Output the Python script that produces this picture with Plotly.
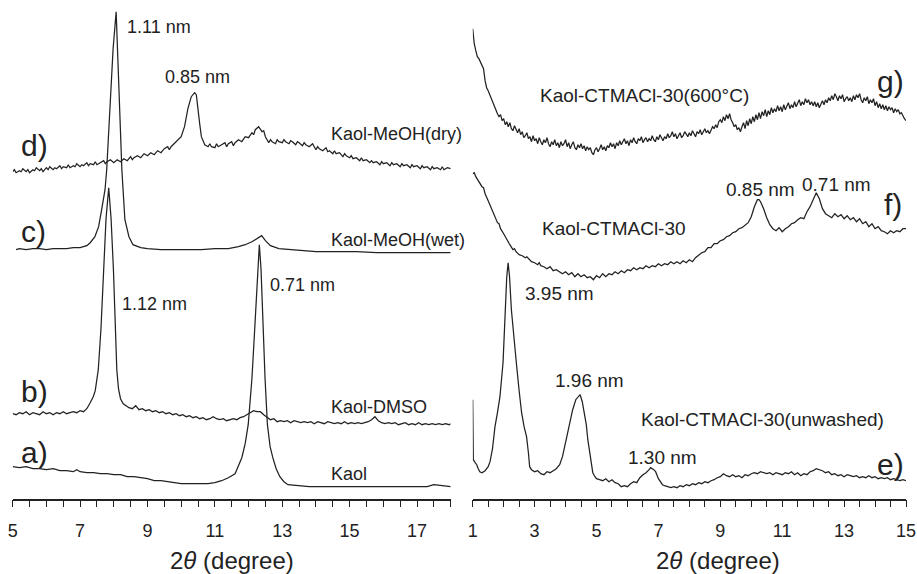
import plotly.graph_objects as go

# ---------------- data: (2theta, intensity a.u.) readings ----------------
kaol = [(5.0, 32), (5.2, 31), (5.4, 32), (5.6, 30), (5.8, 30), (6.0, 29), (6.2, 30), (6.4, 28), (6.6, 28),
        (6.8, 27), (6.9, 29), (7.0, 27), (7.2, 26), (7.4, 26), (7.6, 25), (7.8, 25), (8.0, 24), (8.2, 24),
        (8.4, 22), (8.6, 22), (8.8, 21), (9.0, 20), (9.2, 18), (9.4, 18), (9.6, 17), (9.8, 16), (10.0, 15),
        (10.2, 15), (10.4, 15), (10.6, 15), (10.8, 15), (11.0, 16), (11.2, 18), (11.4, 21), (11.6, 25),
        (11.8, 41), (11.9, 55), (11.99, 74), (12.1, 120), (12.19, 174), (12.26, 225), (12.32, 254),
        (12.37, 230), (12.42, 174), (12.49, 120), (12.56, 74), (12.64, 52), (12.72, 41), (12.82, 30),
        (12.93, 22), (13.05, 17), (13.17, 14), (13.4, 13), (13.8, 12), (14.2, 12), (14.6, 12), (15.0, 12),
        (15.4, 12), (15.8, 12), (16.2, 12), (16.6, 12), (17.0, 12), (17.3, 12), (17.5, 14), (17.7, 13),
        (18.0, 12)]

kaol_dmso = [(5.0, 85), (5.1, 84), (5.2, 86), (5.3, 85), (5.4, 87), (5.5, 84), (5.6, 86), (5.7, 85), (5.8, 84),
             (5.9, 87), (6.0, 85), (6.1, 86), (6.2, 84), (6.3, 86), (6.4, 85), (6.5, 87), (6.6, 85), (6.7, 86),
             (6.8, 87), (6.9, 86), (7.0, 88), (7.1, 87), (7.2, 90), (7.3, 96), (7.39, 102), (7.45, 108),
             (7.54, 129), (7.62, 170), (7.69, 229), (7.77, 280), (7.85, 311), (7.92, 280), (7.99, 229),
             (8.04, 170), (8.09, 129), (8.14, 110), (8.2, 100), (8.28, 95), (8.35, 93), (8.45, 91), (8.55, 90),
             (8.65, 93), (8.75, 89), (8.85, 90), (8.95, 88), (9.05, 89), (9.15, 87), (9.25, 88), (9.35, 86),
             (9.45, 87), (9.55, 85), (9.65, 86), (9.75, 84), (9.85, 85), (9.95, 83), (10.05, 84), (10.15, 82),
             (10.25, 83), (10.35, 81), (10.45, 82), (10.55, 80), (10.65, 81), (10.75, 79), (10.85, 80),
             (10.95, 82), (11.05, 80), (11.15, 79), (11.25, 80), (11.35, 78), (11.45, 79), (11.55, 80),
             (11.65, 79), (11.75, 81), (11.85, 82), (11.95, 84), (12.05, 86), (12.15, 88), (12.25, 87),
             (12.35, 87), (12.45, 84), (12.55, 81), (12.65, 79), (12.75, 80), (12.85, 77), (12.95, 78),
             (13.05, 77), (13.15, 78), (13.25, 76), (13.35, 78), (13.45, 77), (13.55, 76), (13.65, 77),
             (13.75, 76), (13.85, 77), (13.95, 75), (14.05, 77), (14.15, 76), (14.25, 75), (14.35, 77),
             (14.45, 76), (14.55, 75), (14.65, 76), (14.75, 75), (14.85, 77), (14.95, 75), (15.05, 76),
             (15.15, 75), (15.25, 76), (15.35, 75), (15.45, 76), (15.55, 77), (15.65, 79), (15.75, 82),
             (15.85, 78), (15.95, 76), (16.05, 75), (16.15, 76), (16.25, 75), (16.35, 76), (16.45, 74),
             (16.55, 75), (16.65, 76), (16.75, 74), (16.85, 75), (16.95, 74), (17.05, 76), (17.15, 74),
             (17.25, 75), (17.35, 74), (17.45, 75), (17.55, 74), (17.65, 75), (17.75, 74), (17.85, 75),
             (17.95, 74), (18.0, 75)]

kaol_meoh_wet = [(5.1, 249), (5.2, 250), (5.4, 249), (5.6, 250), (5.8, 250), (6.0, 249), (6.2, 250), (6.4, 250),
                 (6.6, 250), (6.8, 251), (7.0, 251), (7.2, 253), (7.3, 256), (7.44, 262), (7.55, 272),
                 (7.64, 289), (7.74, 309), (7.79, 329), (7.89, 390), (7.98, 450), (8.07, 487), (8.15, 420),
                 (8.24, 329), (8.33, 279), (8.45, 262), (8.57, 254), (8.8, 251), (9.0, 250), (9.4, 249),
                 (9.8, 249), (10.2, 249), (10.6, 249), (11.0, 250), (11.4, 250), (11.7, 252), (11.9, 254),
                 (12.1, 257), (12.25, 260), (12.39, 263), (12.5, 258), (12.65, 253), (12.9, 250), (13.2, 249),
                 (13.6, 248), (14.0, 247), (14.6, 247), (15.2, 247), (15.8, 246), (16.4, 246), (17.0, 246),
                 (17.6, 246), (18.0, 246)]

kaol_meoh_dry = [(5.0, 327), (5.05, 329), (5.1, 326), (5.2, 328), (5.25, 327), (5.3, 330), (5.4, 327), (5.45, 329),
                 (5.5, 326), (5.6, 329), (5.65, 328), (5.7, 331), (5.8, 328), (5.85, 330), (5.9, 327), (6.0, 331),
                 (6.05, 329), (6.1, 332), (6.2, 329), (6.25, 331), (6.3, 330), (6.4, 333), (6.45, 330),
                 (6.5, 332), (6.6, 331), (6.65, 334), (6.7, 331), (6.8, 333), (6.85, 332), (6.9, 335),
                 (7.0, 332), (7.05, 334), (7.1, 333), (7.2, 336), (7.25, 333), (7.3, 335), (7.4, 334),
                 (7.45, 337), (7.5, 334), (7.6, 336), (7.7, 338), (7.75, 335), (7.8, 337), (7.9, 339),
                 (8.0, 336), (8.1, 339), (8.2, 337), (8.3, 340), (8.4, 338), (8.5, 342), (8.55, 339),
                 (8.6, 341), (8.7, 343), (8.8, 341), (8.9, 345), (9.0, 343), (9.1, 346), (9.2, 344), (9.3, 348),
                 (9.4, 346), (9.5, 350), (9.6, 352), (9.65, 349), (9.7, 352), (9.8, 355), (9.9, 358),
                 (10.0, 362), (10.1, 372), (10.2, 390), (10.3, 402), (10.4, 406), (10.45, 404), (10.5, 392),
                 (10.55, 375), (10.6, 362), (10.7, 354), (10.8, 352), (10.85, 355), (10.9, 352), (11.0, 351),
                 (11.05, 355), (11.1, 352), (11.2, 354), (11.3, 356), (11.35, 352), (11.4, 355), (11.5, 357),
                 (11.55, 353), (11.6, 356), (11.7, 359), (11.8, 357), (11.9, 362), (12.0, 361), (12.1, 366),
                 (12.15, 364), (12.2, 369), (12.3, 372), (12.35, 370), (12.4, 367), (12.45, 368), (12.5, 362),
                 (12.6, 356), (12.65, 359), (12.7, 357), (12.8, 355), (12.85, 359), (12.9, 357), (13.0, 356),
                 (13.05, 359), (13.1, 357), (13.2, 355), (13.25, 358), (13.3, 357), (13.4, 354), (13.45, 357),
                 (13.5, 356), (13.6, 353), (13.65, 356), (13.7, 354), (13.8, 352), (13.9, 355), (14.0, 349),
                 (14.05, 352), (14.1, 350), (14.2, 348), (14.3, 351), (14.35, 347), (14.4, 348), (14.5, 345),
                 (14.55, 348), (14.6, 345), (14.7, 346), (14.8, 342), (14.85, 345), (14.9, 343), (15.0, 341),
                 (15.05, 343), (15.1, 340), (15.2, 341), (15.3, 338), (15.35, 341), (15.4, 338), (15.5, 339),
                 (15.6, 336), (15.65, 338), (15.7, 336), (15.8, 337), (15.9, 334), (15.95, 337), (16.0, 335),
                 (16.1, 336), (16.2, 333), (16.25, 336), (16.3, 334), (16.4, 335), (16.5, 332), (16.55, 335),
                 (16.6, 333), (16.7, 334), (16.8, 331), (16.85, 334), (16.9, 332), (17.0, 333), (17.1, 330),
                 (17.15, 333), (17.2, 331), (17.3, 332), (17.4, 329), (17.45, 332), (17.5, 330), (17.6, 331),
                 (17.7, 329), (17.75, 332), (17.8, 329), (17.9, 331), (18.0, 330)]

ctmacl_unwashed = [(1.0, 99), (1.01, 60), (1.02, 39), (1.08, 36), (1.13, 34), (1.18, 30), (1.23, 27), (1.3, 26),
                   (1.4, 28), (1.5, 32), (1.56, 37), (1.64, 50), (1.72, 72), (1.8, 86), (1.88, 102), (1.98, 136),
                   (2.04, 189), (2.1, 222), (2.145, 236), (2.19, 222), (2.25, 189), (2.33, 160), (2.41, 136),
                   (2.5, 108), (2.58, 86), (2.66, 72), (2.74, 62), (2.8, 46), (2.84, 32), (2.9, 29), (3.0, 27),
                   (3.1, 28), (3.2, 25), (3.3, 24), (3.4, 27), (3.5, 26), (3.6, 28), (3.7, 30), (3.81, 34),
                   (3.9, 42), (4.02, 59), (4.12, 75), (4.23, 89), (4.33, 99), (4.39, 101), (4.47, 104),
                   (4.54, 97), (4.61, 86), (4.67, 74), (4.72, 59), (4.8, 40), (4.88, 26), (4.95, 22), (5.0, 20),
                   (5.1, 19), (5.2, 18), (5.3, 20), (5.4, 17), (5.5, 19), (5.6, 16), (5.7, 15), (5.8, 12),
                   (5.9, 13), (6.0, 12), (6.1, 15), (6.2, 17), (6.3, 16), (6.4, 21), (6.5, 24), (6.6, 26),
                   (6.7, 29), (6.75, 31), (6.85, 29), (6.91, 27), (7.0, 20), (7.13, 14), (7.2, 13), (7.3, 12),
                   (7.4, 11), (7.5, 12), (7.6, 11), (7.7, 13), (7.8, 12), (7.9, 14), (8.0, 13), (8.1, 15),
                   (8.2, 14), (8.3, 16), (8.4, 15), (8.5, 17), (8.6, 16), (8.7, 18), (8.8, 19), (8.9, 21),
                   (9.0, 22), (9.1, 25), (9.2, 23), (9.3, 22), (9.4, 24), (9.5, 22), (9.6, 23), (9.7, 21),
                   (9.8, 24), (9.9, 23), (10.0, 25), (10.1, 26), (10.2, 25), (10.3, 27), (10.4, 26), (10.5, 25),
                   (10.6, 26), (10.7, 24), (10.8, 26), (10.9, 25), (11.0, 24), (11.1, 26), (11.2, 25),
                   (11.3, 27), (11.4, 24), (11.5, 26), (11.6, 23), (11.7, 25), (11.8, 24), (11.9, 27),
                   (12.0, 28), (12.1, 30), (12.2, 29), (12.3, 28), (12.4, 26), (12.5, 27), (12.6, 24),
                   (12.7, 25), (12.8, 23), (12.9, 24), (13.0, 22), (13.1, 24), (13.2, 23), (13.3, 22),
                   (13.4, 23), (13.5, 21), (13.6, 22), (13.7, 21), (13.8, 23), (13.9, 21), (14.0, 22),
                   (14.1, 20), (14.2, 21), (14.3, 20), (14.4, 21), (14.5, 19), (14.6, 20), (14.7, 19),
                   (14.8, 18), (14.9, 19), (15.0, 18)]

ctmacl_30 = [(1.0, 325), (1.05, 326), (1.1, 322), (1.2, 317), (1.3, 312), (1.35, 311), (1.4, 305), (1.5, 298),
             (1.6, 291), (1.7, 283), (1.8, 276), (1.85, 275), (1.9, 270), (2.0, 265), (2.1, 259), (2.2, 254),
             (2.3, 249), (2.35, 250), (2.4, 247), (2.5, 244), (2.6, 243), (2.7, 241), (2.75, 242), (2.8, 240),
             (2.9, 237), (3.0, 236), (3.1, 234), (3.15, 236), (3.2, 233), (3.3, 232), (3.4, 230), (3.5, 232),
             (3.6, 228), (3.7, 229), (3.8, 227), (3.9, 225), (4.0, 227), (4.1, 224), (4.2, 226), (4.3, 222),
             (4.4, 225), (4.5, 222), (4.6, 224), (4.7, 221), (4.8, 222), (4.9, 219), (5.0, 223), (5.1, 221),
             (5.2, 225), (5.3, 222), (5.4, 225), (5.5, 224), (5.6, 227), (5.7, 225), (5.8, 228), (5.9, 226),
             (6.0, 229), (6.1, 228), (6.2, 231), (6.3, 229), (6.4, 231), (6.5, 230), (6.6, 233), (6.7, 231),
             (6.8, 233), (6.9, 232), (7.0, 235), (7.1, 233), (7.2, 235), (7.3, 234), (7.4, 237), (7.5, 235),
             (7.6, 237), (7.7, 235), (7.8, 238), (7.9, 236), (8.0, 239), (8.1, 237), (8.2, 241), (8.3, 244),
             (8.4, 246), (8.5, 247), (8.6, 251), (8.7, 251), (8.8, 255), (8.9, 255), (9.0, 258), (9.1, 259),
             (9.2, 262), (9.3, 263), (9.4, 266), (9.5, 267), (9.6, 270), (9.7, 271), (9.8, 274), (9.9, 276),
             (10.0, 282), (10.1, 292), (10.2, 299), (10.25, 299), (10.3, 297), (10.4, 290), (10.5, 281),
             (10.6, 274), (10.7, 270), (10.8, 268), (10.9, 271), (11.0, 267), (11.1, 270), (11.2, 272),
             (11.3, 275), (11.4, 276), (11.5, 279), (11.6, 281), (11.7, 280), (11.8, 287), (11.9, 292),
             (12.0, 299), (12.1, 306), (12.2, 300), (12.3, 290), (12.4, 285), (12.5, 283), (12.6, 281),
             (12.7, 285), (12.8, 282), (12.9, 284), (13.0, 280), (13.1, 283), (13.2, 279), (13.3, 281),
             (13.4, 277), (13.5, 280), (13.6, 275), (13.7, 277), (13.8, 272), (13.9, 275), (14.0, 270),
             (14.1, 272), (14.2, 268), (14.3, 267), (14.4, 265), (14.5, 268), (14.6, 266), (14.7, 268),
             (14.8, 267), (14.9, 270), (15.0, 270)]

ctmacl_600 = [(1.0, 470), (1.05, 455), (1.1, 448), (1.15, 442), (1.2, 440), (1.25, 436), (1.3, 433), (1.35, 430),
              (1.4, 418), (1.45, 411), (1.5, 408), (1.55, 404), (1.6, 401), (1.65, 397), (1.7, 393), (1.75, 390),
              (1.8, 385), (1.85, 382), (1.9, 384), (1.95, 378), (2.0, 380), (2.05, 374), (2.1, 377), (2.15, 372),
              (2.2, 376), (2.25, 370), (2.3, 368), (2.35, 373), (2.4, 369), (2.45, 366), (2.5, 370),
              (2.55, 364), (2.6, 367), (2.65, 361), (2.7, 363), (2.75, 366), (2.8, 360), (2.85, 362),
              (2.9, 357), (2.95, 363), (3.0, 358), (3.05, 360), (3.1, 355), (3.15, 361), (3.2, 357),
              (3.25, 354), (3.3, 359), (3.35, 356), (3.4, 361), (3.45, 355), (3.5, 352), (3.55, 357),
              (3.6, 354), (3.65, 359), (3.7, 353), (3.75, 356), (3.8, 351), (3.85, 357), (3.9, 353),
              (3.95, 355), (4.0, 359), (4.05, 352), (4.1, 356), (4.15, 350), (4.2, 354), (4.25, 357),
              (4.3, 351), (4.35, 349), (4.4, 354), (4.45, 351), (4.5, 355), (4.55, 350), (4.6, 353),
              (4.65, 348), (4.7, 352), (4.75, 349), (4.8, 351), (4.85, 346), (4.9, 344), (4.95, 349),
              (5.0, 351), (5.05, 347), (5.1, 350), (5.15, 354), (5.2, 349), (5.25, 352), (5.3, 348),
              (5.35, 353), (5.4, 351), (5.45, 356), (5.5, 352), (5.55, 355), (5.6, 350), (5.65, 356),
              (5.7, 353), (5.75, 358), (5.8, 354), (5.85, 357), (5.9, 360), (5.95, 355), (6.0, 358),
              (6.05, 353), (6.1, 359), (6.15, 356), (6.2, 361), (6.25, 357), (6.3, 355), (6.35, 360),
              (6.4, 358), (6.45, 362), (6.5, 356), (6.55, 359), (6.6, 361), (6.65, 357), (6.7, 360),
              (6.75, 358), (6.8, 363), (6.85, 359), (6.9, 357), (6.95, 362), (7.0, 359), (7.05, 364),
              (7.1, 361), (7.15, 358), (7.2, 362), (7.25, 360), (7.3, 365), (7.35, 361), (7.4, 363),
              (7.45, 367), (7.5, 362), (7.55, 365), (7.6, 360), (7.65, 364), (7.7, 366), (7.75, 361),
              (7.8, 363), (7.85, 367), (7.9, 364), (7.95, 362), (8.0, 366), (8.05, 363), (8.1, 368),
              (8.15, 364), (8.2, 362), (8.25, 367), (8.3, 365), (8.35, 369), (8.4, 364), (8.45, 367),
              (8.5, 370), (8.55, 366), (8.6, 368), (8.65, 365), (8.7, 369), (8.75, 372), (8.8, 370),
              (8.85, 374), (8.9, 371), (8.95, 377), (9.0, 379), (9.05, 376), (9.1, 382), (9.15, 378),
              (9.2, 384), (9.25, 380), (9.3, 385), (9.35, 379), (9.4, 376), (9.45, 372), (9.5, 374),
              (9.55, 369), (9.6, 371), (9.65, 367), (9.7, 372), (9.75, 376), (9.8, 370), (9.85, 378),
              (9.9, 373), (9.95, 380), (10.0, 375), (10.05, 382), (10.1, 377), (10.15, 384), (10.2, 379),
              (10.25, 386), (10.3, 380), (10.35, 387), (10.4, 383), (10.45, 389), (10.5, 382), (10.55, 388),
              (10.6, 384), (10.65, 391), (10.7, 386), (10.75, 390), (10.8, 387), (10.85, 393), (10.9, 388),
              (10.95, 392), (11.0, 387), (11.05, 394), (11.1, 389), (11.15, 392), (11.2, 396), (11.25, 390),
              (11.3, 394), (11.35, 391), (11.4, 397), (11.45, 392), (11.5, 395), (11.55, 399), (11.6, 393),
              (11.65, 397), (11.7, 394), (11.75, 400), (11.8, 396), (11.85, 399), (11.9, 394), (11.95, 397),
              (12.0, 393), (12.05, 397), (12.1, 392), (12.15, 396), (12.2, 391), (12.25, 395), (12.3, 398),
              (12.35, 394), (12.4, 399), (12.45, 396), (12.5, 401), (12.55, 398), (12.6, 403), (12.65, 399),
              (12.7, 405), (12.75, 402), (12.8, 398), (12.85, 403), (12.9, 400), (12.95, 404), (13.0, 397),
              (13.05, 400), (13.1, 402), (13.15, 398), (13.2, 401), (13.25, 397), (13.3, 403), (13.35, 399),
              (13.4, 404), (13.45, 401), (13.5, 405), (13.55, 399), (13.6, 396), (13.65, 401), (13.7, 398),
              (13.75, 402), (13.8, 395), (13.85, 399), (13.9, 396), (13.95, 400), (14.0, 393), (14.05, 397),
              (14.1, 391), (14.15, 395), (14.2, 390), (14.25, 394), (14.3, 389), (14.35, 393), (14.4, 388),
              (14.45, 392), (14.5, 389), (14.55, 391), (14.6, 386), (14.65, 390), (14.7, 387), (14.75, 389),
              (14.8, 385), (14.85, 386), (14.9, 382), (14.95, 380), (15.0, 378)]

# text labels: (text, 2theta, intensity, anchor)
left_labels = [("1.11 nm", 8.33, 472, "left"), ("0.85 nm", 10.47, 422, "center"),
               ("Kaol-MeOH(dry)", 14.39, 365, "left"), ("Kaol-MeOH(wet)", 14.39, 259, "left"),
               ("0.71 nm", 12.58, 214, "left"), ("1.12 nm", 8.19, 195, "left"),
               ("Kaol-DMSO", 14.39, 92, "left"), ("Kaol", 14.39, 25, "left")]
left_letters = [("d)", 5.66, 353), ("c)", 5.63, 267), ("b)", 5.66, 107), ("a)", 5.66, 46)]
right_labels = [("Kaol-CTMACl-30(600°C)", 3.10, 403, "left"), ("0.85 nm", 9.11, 309, "left"),
                ("0.71 nm", 11.59, 314, "left"), ("Kaol-CTMACl-30", 3.16, 270, "left"),
                ("3.95 nm", 2.62, 205, "left"), ("1.96 nm", 3.58, 118, "left"),
                ("Kaol-CTMACl-30(unwashed)", 6.38, 79, "left"), ("1.30 nm", 5.96, 41, "left")]
right_letters = [("g)", 15.0, 417), ("f)", 14.95, 294), ("e)", 15.0, 34)]
axis_title = "2<i>θ</i> (degree)"

# ---------------- figure ----------------
INK = "#222222"
FONT = "Liberation Sans, Arial, sans-serif"
fig = go.Figure()

def add(series, xa, ya):
    xs = [p[0] for p in series]
    ys = [p[1] for p in series]
    fig.add_trace(go.Scatter(x=xs, y=ys, mode="lines", xaxis=xa, yaxis=ya,
                             line=dict(color=INK, width=1.25), showlegend=False, hoverinfo="skip"))

for s in (kaol, kaol_dmso, kaol_meoh_wet, kaol_meoh_dry):
    add(s, "x", "y")
for s in (ctmacl_unwashed, ctmacl_30, ctmacl_600):
    add(s, "x2", "y2")

ann = []
for t, x, y, a in left_labels:
    ann.append(dict(text=t, x=x, y=y, xref="x", yref="y", xanchor=a, yanchor="middle", showarrow=False,
                    font=dict(size=18, color=INK, family=FONT)))
for t, x, y in left_letters:
    ann.append(dict(text=t, x=x, y=y, xref="x", yref="y", xanchor="center", yanchor="middle", showarrow=False,
                    font=dict(size=30, color=INK, family=FONT)))
for t, x, y, a in right_labels:
    ann.append(dict(text=t, x=x, y=y, xref="x2", yref="y2", xanchor=a, yanchor="middle", showarrow=False,
                    font=dict(size=19, color=INK, family=FONT)))
for t, x, y in right_letters:
    ann.append(dict(text=t, x=x, y=y, xref="x2", yref="y2", xanchor="right", yanchor="middle", showarrow=False,
                    font=dict(size=30, color=INK, family=FONT)))
ann.append(dict(text=axis_title, x=11.51, y=14 / 574, xref="x", yref="paper", showarrow=False,
                xanchor="center", yanchor="middle", font=dict(size=24, color=INK, family=FONT)))
ann.append(dict(text=axis_title, x=8.92, y=14 / 574, xref="x2", yref="paper", showarrow=False,
                xanchor="center", yanchor="middle", font=dict(size=24, color=INK, family=FONT)))

def xax(domain, rng, t0):
    return dict(domain=domain, range=rng, tick0=t0, dtick=2, ticks="outside", ticklen=7, tickwidth=1.3,
                tickcolor=INK, showline=True, linecolor=INK, linewidth=1.5, showgrid=False, zeroline=False,
                ticklabelstandoff=8, automargin=False,
                tickfont=dict(size=18, color=INK, family=FONT),
                minor=dict(dtick=0.5, tick0=t0, ticks="outside", ticklen=7, tickwidth=1.3, tickcolor=INK,
                           showgrid=False))

ydom = [(574 - 498.7) / 574, 1.0]
fig.update_layout(
    width=917, height=574, margin=dict(l=0, r=0, t=0, b=0, autoexpand=False),
    paper_bgcolor="white", plot_bgcolor="white",
    xaxis=dict(anchor="y", **xax([12.7 / 917, 450.7 / 917], [5, 18], 5)),
    xaxis2=dict(anchor="y2", **xax([472.7 / 917, 906.0 / 917], [1, 15], 1)),
    yaxis=dict(domain=ydom, range=[0, 498.7], visible=False, anchor="x"),
    yaxis2=dict(domain=ydom, range=[0, 498.7], visible=False, anchor="x2"),
    annotations=ann,
)

fig.write_html("out.html")
